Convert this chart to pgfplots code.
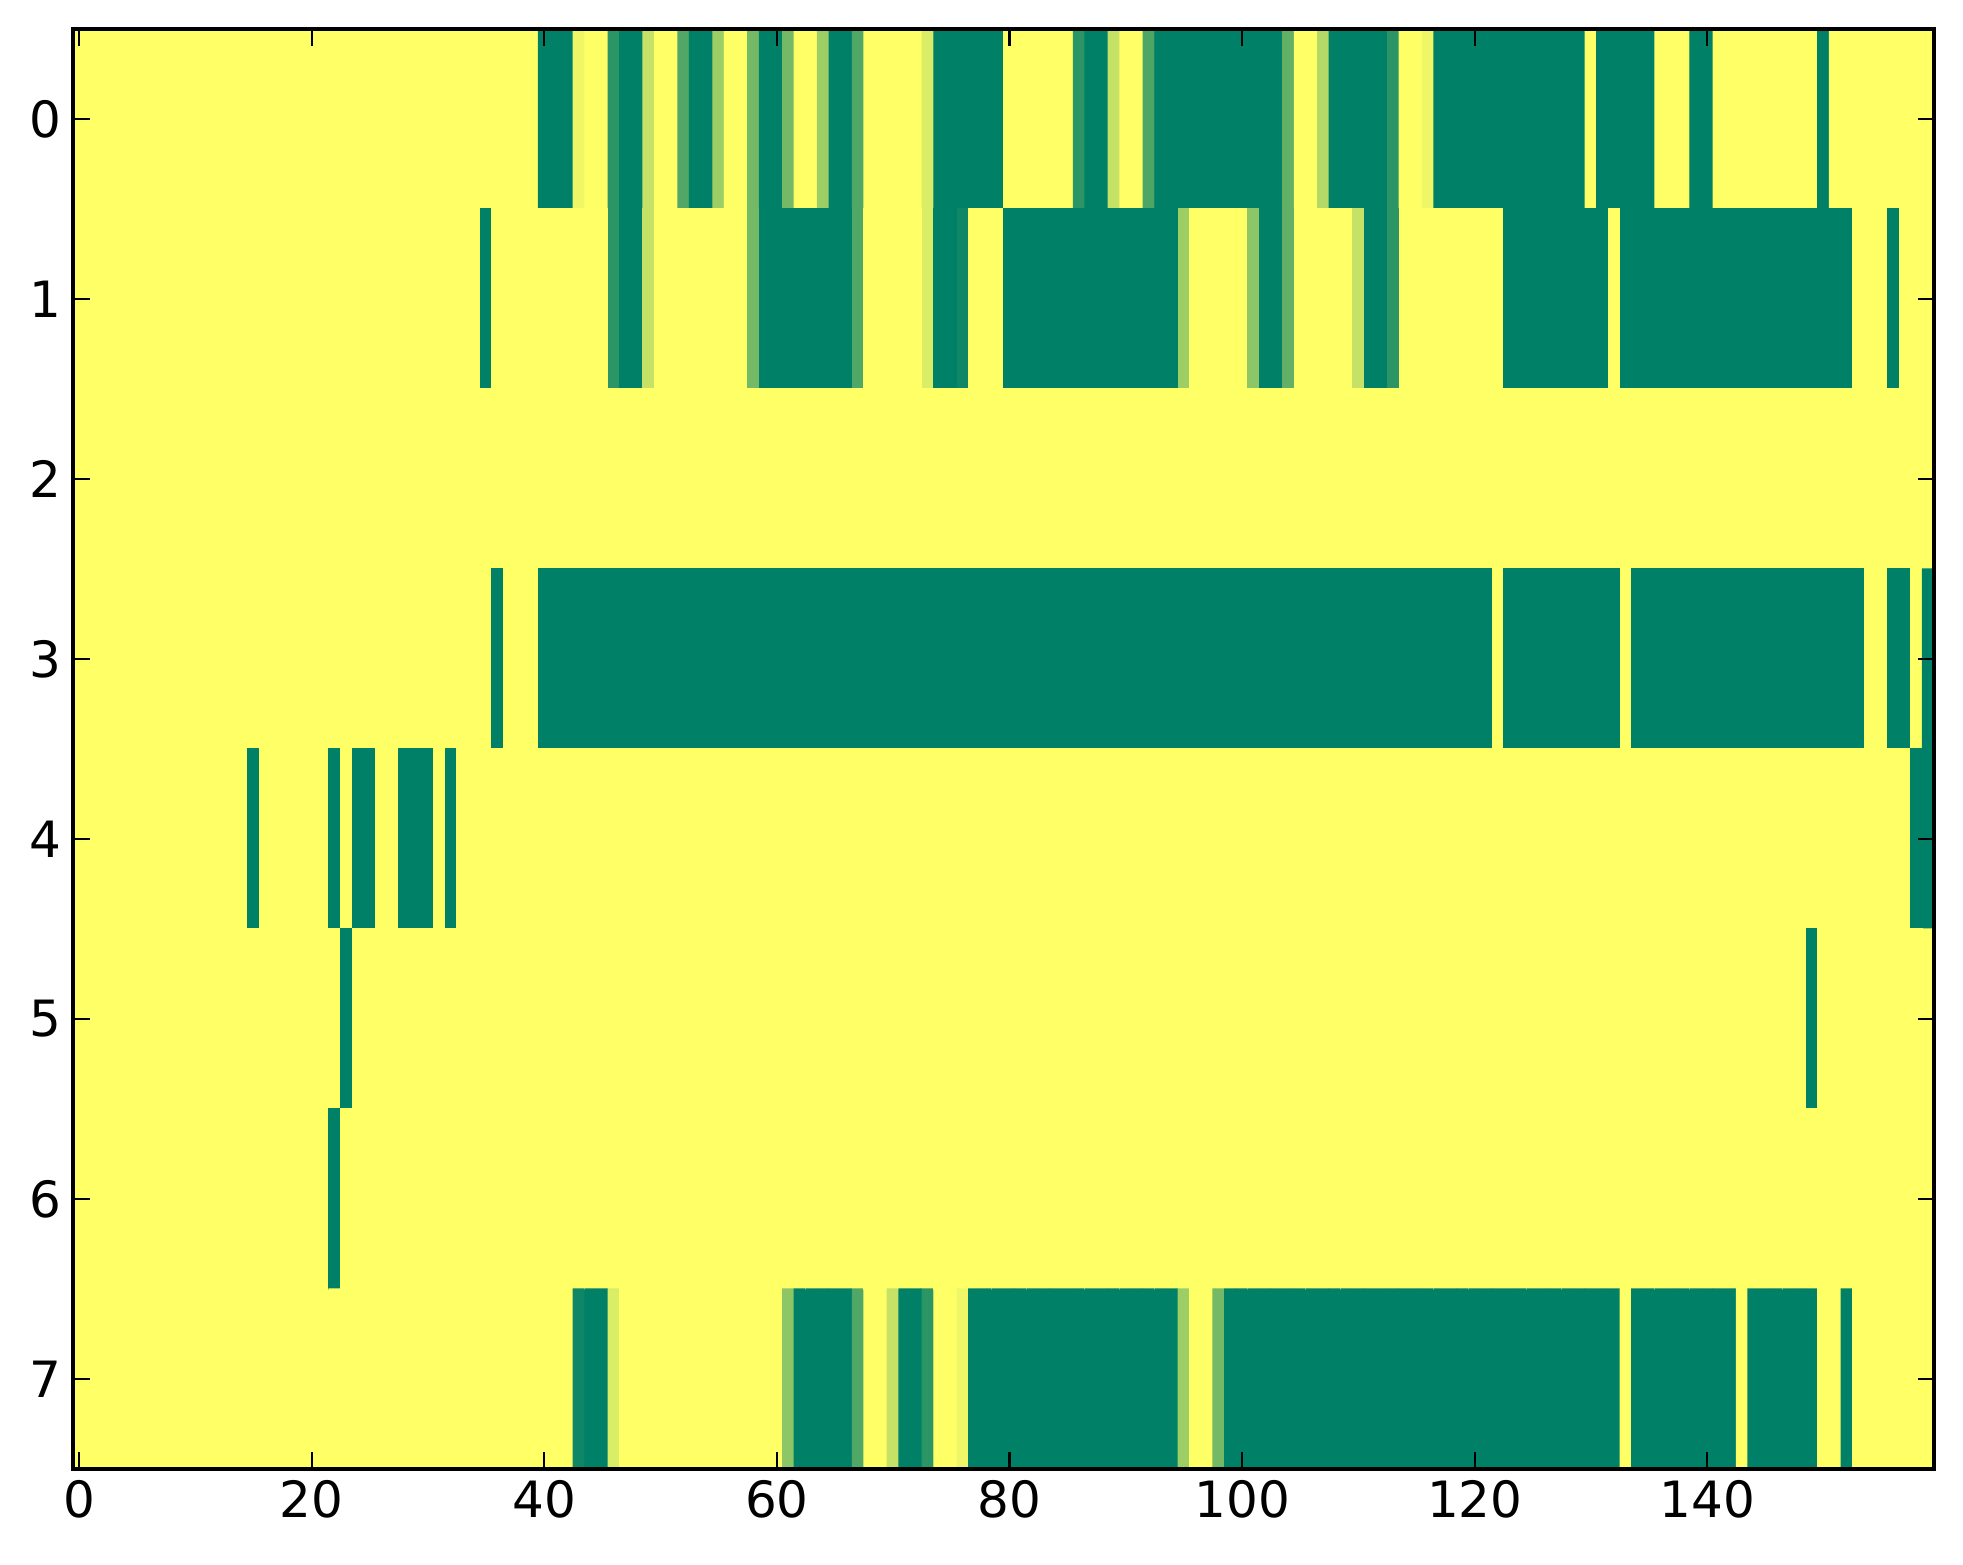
\documentclass[border=0pt]{standalone}
\usepackage{pgfplots}
\pgfplotsset{compat=1.18}
\usepackage{fontspec}
\setmainfont{DejaVu Sans}
\begin{document}
\begin{tikzpicture}
\useasboundingbox (0,0) rectangle (588.9pt,469.2pt);
\begin{axis}[
  at={(21.96pt,28.5pt)}, anchor=south west,
  scale only axis, width=558.3pt, height=432pt,
  xmin=-0.5, xmax=159.5, ymin=-0.5, ymax=7.5, y dir=reverse,
  enlargelimits=false, axis on top,
  colormap={summer}{rgb=(0,0.5,0.4) rgb=(1,1,0.4)},
  point meta min=0, point meta max=1,
  xtick={0,20,...,140}, ytick={0,...,7},
  tick align=inside, xtick pos=both, ytick pos=both,
  major tick length=5pt,
  every tick/.style={black, line width=0.62pt},
  axis line style={line width=1.25pt},
  tick label style={font=\fontsize{15}{18}\selectfont},
  /pgf/number format/assume math mode=true,
]
\addplot[matrix plot*, mesh/cols=160, point meta=explicit]
  table[row sep=\\, x expr={mod(\coordindex,160)}, y expr={floor(\coordindex/160)}, meta=c] {
c\\
1\\1\\1\\1\\1\\1\\1\\1\\1\\1\\ 1\\1\\1\\1\\1\\1\\1\\1\\1\\1\\ 1\\1\\1\\1\\1\\1\\1\\1\\1\\1\\ 1\\1\\1\\1\\1\\1\\1\\1\\1\\1\\
0\\0\\0\\0.93\\1\\1\\0.17\\0\\0\\0.77\\ 1\\1\\0.31\\0\\0\\0.61\\1\\1\\0.45\\0\\ 0\\0.45\\1\\1\\0.61\\0\\0\\0.31\\1\\1\\ 1\\1\\1\\0.85\\0\\0\\0\\0\\0\\0\\
1\\1\\1\\1\\1\\1\\0.17\\0\\0\\0.77\\ 1\\1\\0.3\\0\\0\\0\\0\\0\\0\\0\\ 0\\0\\0\\0\\0.38\\1\\1\\0.7\\0\\0\\ 0\\0\\0\\0.17\\1\\1\\0.93\\0\\0\\0\\
0\\0\\0\\0\\0\\0\\0\\0\\0\\0\\ 1\\0\\0\\0\\0\\0\\1\\1\\1\\0\\ 0\\1\\1\\1\\1\\1\\1\\1\\1\\1\\ 0\\1\\1\\1\\1\\1\\1\\1\\1\\1\\
1\\1\\1\\1\\1\\1\\1\\1\\1\\1\\ 1\\1\\1\\1\\1\\1\\1\\1\\1\\1\\ 1\\1\\1\\1\\1\\1\\1\\1\\1\\1\\ 1\\1\\1\\1\\1\\0\\1\\1\\1\\1\\
1\\1\\1\\1\\1\\1\\0.17\\0\\0\\0.77\\ 1\\1\\1\\1\\1\\1\\1\\1\\0.45\\0\\ 0\\0\\0\\0\\0\\0\\0\\0.31\\1\\1\\ 1\\1\\1\\0.85\\0\\0\\0.06\\1\\1\\1\\
0\\0\\0\\0\\0\\0\\0\\0\\0\\0\\ 0\\0\\0\\0\\0\\0.61\\1\\1\\1\\1\\ 1\\0.55\\0\\0\\0.38\\1\\1\\1\\1\\1\\ 0.77\\0\\0\\0.17\\1\\1\\1\\1\\1\\1\\
1\\1\\1\\0\\0\\0\\0\\0\\0\\0\\ 0\\0\\1\\0\\0\\0\\0\\0\\0\\0\\ 0\\0\\0\\0\\0\\0\\0\\0\\0\\0\\ 0\\0\\0\\1\\1\\1\\0\\1\\1\\1\\
1\\1\\1\\1\\1\\1\\1\\1\\1\\1\\ 1\\1\\1\\1\\1\\1\\1\\1\\1\\1\\ 1\\1\\1\\1\\1\\1\\1\\1\\1\\1\\ 1\\1\\1\\1\\1\\1\\1\\1\\1\\1\\
1\\1\\1\\1\\1\\1\\1\\1\\1\\1\\ 1\\1\\1\\1\\1\\1\\1\\1\\1\\1\\ 1\\1\\1\\1\\1\\1\\1\\1\\1\\1\\ 1\\1\\1\\1\\1\\1\\1\\1\\1\\1\\
1\\1\\1\\1\\1\\1\\1\\1\\1\\1\\ 1\\1\\1\\1\\1\\1\\1\\1\\1\\1\\ 1\\1\\1\\1\\1\\1\\1\\1\\1\\1\\ 1\\1\\1\\1\\1\\1\\1\\1\\1\\1\\
1\\1\\1\\1\\1\\1\\1\\1\\1\\1\\ 1\\1\\1\\1\\1\\1\\1\\1\\1\\1\\ 1\\1\\1\\1\\1\\1\\1\\1\\1\\1\\ 1\\1\\1\\1\\1\\1\\1\\1\\1\\1\\
1\\1\\1\\1\\1\\1\\1\\1\\1\\1\\ 1\\1\\1\\1\\1\\1\\1\\1\\1\\1\\ 1\\1\\1\\1\\1\\1\\1\\1\\1\\1\\ 1\\1\\1\\1\\1\\1\\0\\1\\1\\1\\
0\\0\\0\\0\\0\\0\\0\\0\\0\\0\\ 0\\0\\0\\0\\0\\0\\0\\0\\0\\0\\ 0\\0\\0\\0\\0\\0\\0\\0\\0\\0\\ 0\\0\\0\\0\\0\\0\\0\\0\\0\\0\\
0\\0\\0\\0\\0\\0\\0\\0\\0\\0\\ 0\\0\\0\\0\\0\\0\\0\\0\\0\\0\\ 0\\0\\0\\0\\0\\0\\0\\0\\0\\0\\ 0\\0\\0\\0\\0\\0\\0\\0\\0\\0\\
0\\0\\1\\0\\0\\0\\0\\0\\0\\0\\ 0\\0\\0\\1\\0\\0\\0\\0\\0\\0\\ 0\\0\\0\\0\\0\\0\\0\\0\\0\\0\\ 0\\0\\0\\0\\1\\1\\0\\0\\1\\0\\
1\\1\\1\\1\\1\\1\\1\\1\\1\\1\\ 1\\1\\1\\1\\1\\0\\1\\1\\1\\1\\ 1\\1\\0\\1\\0\\0\\1\\1\\0\\0\\ 0\\1\\0\\1\\1\\1\\1\\1\\1\\1\\
1\\1\\1\\1\\1\\1\\1\\1\\1\\1\\ 1\\1\\1\\1\\1\\1\\1\\1\\1\\1\\ 1\\1\\1\\1\\1\\1\\1\\1\\1\\1\\ 1\\1\\1\\1\\1\\1\\1\\1\\1\\1\\
1\\1\\1\\1\\1\\1\\1\\1\\1\\1\\ 1\\1\\1\\1\\1\\1\\1\\1\\1\\1\\ 1\\1\\1\\1\\1\\1\\1\\1\\1\\1\\ 1\\1\\1\\1\\1\\1\\1\\1\\1\\1\\
1\\1\\1\\1\\1\\1\\1\\1\\1\\1\\ 1\\1\\1\\1\\1\\1\\1\\1\\1\\1\\ 1\\1\\1\\1\\1\\1\\1\\1\\1\\1\\ 1\\1\\1\\1\\1\\1\\1\\1\\0\\0\\
1\\1\\1\\1\\1\\1\\1\\1\\1\\1\\ 1\\1\\1\\1\\1\\1\\1\\1\\1\\1\\ 1\\1\\1\\0\\1\\1\\1\\1\\1\\1\\ 1\\1\\1\\1\\1\\1\\1\\1\\1\\1\\
1\\1\\1\\1\\1\\1\\1\\1\\1\\1\\ 1\\1\\1\\1\\1\\1\\1\\1\\1\\1\\ 1\\1\\1\\1\\1\\1\\1\\1\\1\\1\\ 1\\1\\1\\1\\1\\1\\1\\1\\1\\1\\
1\\1\\1\\1\\1\\1\\1\\1\\1\\1\\ 1\\1\\1\\1\\1\\1\\1\\1\\1\\1\\ 1\\1\\1\\1\\1\\1\\1\\1\\1\\1\\ 1\\1\\1\\1\\1\\1\\1\\1\\1\\1\\
1\\1\\1\\1\\1\\1\\1\\1\\1\\1\\ 1\\1\\1\\1\\1\\1\\1\\1\\1\\1\\ 1\\1\\1\\1\\1\\1\\1\\1\\1\\0\\ 1\\1\\1\\1\\1\\1\\1\\1\\1\\1\\
1\\1\\1\\1\\1\\1\\1\\1\\1\\1\\ 1\\1\\1\\1\\1\\1\\1\\1\\1\\1\\ 1\\1\\0\\1\\1\\1\\1\\1\\1\\1\\ 1\\1\\1\\1\\1\\1\\1\\1\\1\\1\\
1\\1\\1\\1\\1\\1\\1\\1\\1\\1\\ 1\\1\\1\\1\\1\\1\\1\\1\\1\\1\\ 1\\1\\1\\1\\1\\1\\1\\1\\1\\1\\ 1\\1\\1\\1\\1\\1\\1\\1\\1\\1\\
1\\1\\1\\1\\1\\1\\1\\1\\1\\1\\ 1\\1\\1\\1\\1\\1\\1\\1\\1\\1\\ 1\\1\\1\\1\\1\\1\\1\\1\\1\\1\\ 1\\1\\1\\1\\1\\1\\1\\1\\1\\1\\
1\\1\\1\\1\\1\\1\\1\\1\\1\\1\\ 1\\1\\1\\1\\1\\1\\1\\1\\1\\1\\ 1\\1\\1\\1\\1\\1\\1\\1\\1\\1\\ 1\\1\\1\\1\\1\\1\\1\\1\\1\\1\\
1\\1\\1\\1\\1\\1\\1\\1\\1\\1\\ 1\\1\\1\\1\\1\\1\\1\\1\\1\\1\\ 1\\1\\1\\1\\1\\1\\1\\1\\1\\1\\ 1\\1\\1\\1\\1\\1\\1\\1\\1\\1\\
1\\1\\1\\0.06\\0\\0\\0.85\\1\\1\\1\\ 1\\1\\1\\1\\1\\1\\1\\1\\1\\1\\ 1\\0.55\\0\\0\\0\\0\\0\\0.31\\1\\1\\ 0.77\\0\\0\\0.17\\1\\1\\0.93\\0\\0\\0\\
0\\0\\0\\0\\0\\0\\0\\0\\0\\0\\ 0\\0\\0\\0\\0\\0.61\\1\\1\\0.45\\0\\ 0\\0\\0\\0\\0\\0\\0\\0\\0\\0\\ 0\\0\\0\\0\\0\\0\\0\\0\\0\\0\\
0\\0\\0\\0\\0\\0\\0\\0\\0\\0\\ 0\\0\\0\\1\\0\\0\\0\\0\\0\\0\\ 0\\0\\0\\1\\0\\0\\0\\0\\0\\0\\ 1\\1\\0\\1\\1\\1\\1\\1\\1\\1\\
};
\end{axis}
\end{tikzpicture}
\end{document}
